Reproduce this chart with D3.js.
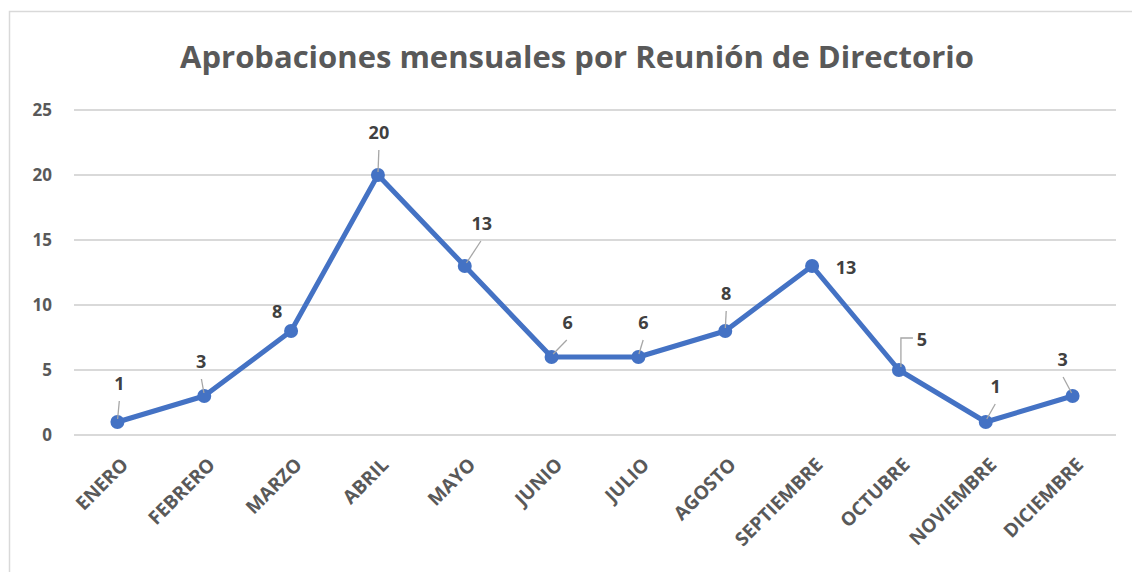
<!DOCTYPE html>
<html>
<head>
<meta charset="utf-8">
<script src="https://cdn.jsdelivr.net/npm/d3@7"></script>
<style>
  body { margin: 0; background: #fff; }
  svg { display: block; }
</style>
</head>
<body>
<svg id="chart" width="1132" height="572"></svg>
<script>
// data
var months = ['ENERO', 'FEBRERO', 'MARZO', 'ABRIL', 'MAYO', 'JUNIO', 'JULIO',
  'AGOSTO', 'SEPTIEMBRE', 'OCTUBRE', 'NOVIEMBRE', 'DICIEMBRE'];
var approvals = [1, 3, 8, 20, 13, 6, 6, 8, 13, 5, 1, 3];
var yTicks = [0, 5, 10, 15, 20, 25];
var title = 'Aprobaciones mensuales por Reunión de Directorio';

// where each data label sits, relative to its point (dx, dy), and whether it has a leader
var labelPos = [
  [2, -38, 'line'], [-3, -34, 'line'], [-14, -19, null], [1, -42, 'line'],
  [17, -42, 'line'], [16, -34, 'line'], [5, -34, 'line'], [1, -37, 'line'],
  [34, 2, null], [23, -30, 'elbow'], [10, -35, 'line'], [-10, -36, 'line']
];

var svg = d3.select('#chart');
var font = 'Open Sans, Liberation Sans, sans-serif';
var grey = '#595959';
var blue = '#4472C4';

var plotLeft = 74, plotRight = 1116, plotTop = 110, plotBottom = 435;

var x = d3.scaleBand().domain(months).range([plotLeft, plotRight]);
var y = d3.scaleLinear().domain([0, 25]).range([plotBottom, plotTop]);
var cx = function(d, i) { return x(months[i]) + x.bandwidth() / 2; };

// chart area border
svg.append('rect')
  .attr('x', 9.5).attr('y', 11.5)
  .attr('width', 1140).attr('height', 600)
  .attr('fill', 'none')
  .attr('stroke', '#d9d9d9')
  .attr('stroke-width', 1.5);

svg.append('text')
  .attr('x', 577).attr('y', 68)
  .attr('text-anchor', 'middle')
  .style('font-family', font)
  .style('font-size', '31px')
  .style('font-weight', 'bold')
  .style('fill', grey)
  .text(title);

// gridlines
svg.append('g')
  .selectAll('line')
  .data(yTicks)
  .join('line')
  .attr('x1', plotLeft).attr('x2', plotRight)
  .attr('y1', function(d) { return y(d); })
  .attr('y2', function(d) { return y(d); })
  .attr('stroke', '#d9d9d9')
  .attr('stroke-width', 2);

var yAxis = svg.append('g')
  .attr('transform', 'translate(' + plotLeft + ',0)')
  .call(d3.axisLeft(y).tickValues(yTicks).tickSize(0).tickPadding(22));
yAxis.select('.domain').remove();
yAxis.selectAll('text')
  .style('font-family', font)
  .style('font-size', '17px')
  .style('font-weight', 'bold')
  .style('fill', grey);

var xAxis = svg.append('g')
  .attr('transform', 'translate(0,' + plotBottom + ')')
  .call(d3.axisBottom(x).tickSize(0));
xAxis.select('.domain').remove();
xAxis.selectAll('text')
  .attr('text-anchor', 'end')
  .attr('dy', 0)
  .attr('y', 0)
  .attr('transform', 'translate(12,31) rotate(-45)')
  .style('font-family', font)
  .style('font-size', '19px')
  .style('font-weight', 'bold')
  .style('fill', grey);

// series
var line = d3.line()
  .x(cx)
  .y(function(d) { return y(d); });

svg.append('path')
  .datum(approvals)
  .attr('d', line)
  .attr('fill', 'none')
  .attr('stroke', blue)
  .attr('stroke-width', 5)
  .attr('stroke-linejoin', 'round');

svg.append('g')
  .selectAll('circle')
  .data(approvals)
  .join('circle')
  .attr('cx', cx)
  .attr('cy', function(d) { return y(d); })
  .attr('r', 7)
  .attr('fill', blue);

// leader lines
var leaders = svg.append('g');
approvals.forEach(function(d, i) {
  var px = cx(d, i), py = y(d);
  var p = labelPos[i];
  if (p[2] === 'line') {
    leaders.append('line')
      .attr('x1', px + p[0] * 0.95).attr('y1', py + p[1] + 17)
      .attr('x2', px + p[0] * 0.1).attr('y2', py - 3)
      .attr('stroke', '#a6a6a6')
      .attr('stroke-width', 1.3);
  } else if (p[2] === 'elbow') {
    leaders.append('path')
      .attr('d', 'M' + (px + p[0] - 9) + ',' + (py + p[1] - 2) +
        'H' + (px + 2) + 'V' + (py - 3))
      .attr('fill', 'none')
      .attr('stroke', '#a6a6a6')
      .attr('stroke-width', 1.3);
  }
});

svg.append('g')
  .selectAll('text')
  .data(approvals)
  .join('text')
  .attr('x', function(d, i) { return cx(d, i) + labelPos[i][0]; })
  .attr('y', function(d, i) { return y(d) + labelPos[i][1]; })
  .attr('dy', '0.35em')
  .attr('text-anchor', 'middle')
  .style('font-family', font)
  .style('font-size', '18px')
  .style('font-weight', 'bold')
  .style('fill', '#404040')
  .text(function(d) { return d; });
</script>
</body>
</html>
